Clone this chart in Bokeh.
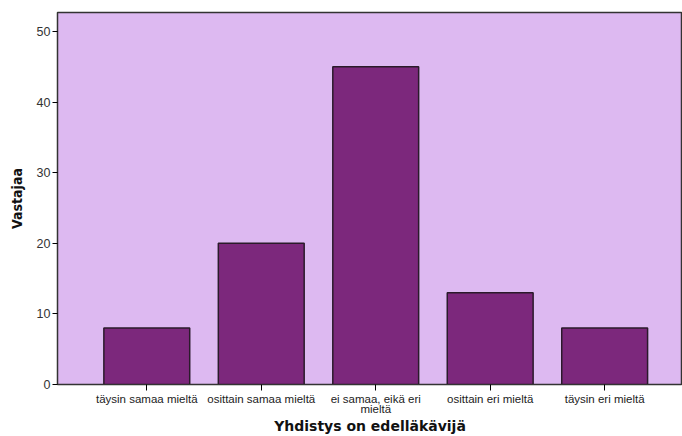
from bokeh.plotting import figure
from bokeh.models import ColumnDataSource, Range1d, FixedTicker
from bokeh.embed import file_html
from bokeh.resources import INLINE

categories = ["täysin samaa mieltä", "osittain samaa mieltä", "ei samaa, eikä eri\nmieltä",
              "osittain eri mieltä", "täysin eri mieltä"]
values = [8, 20, 45, 13, 8]
y_ticks = [0, 10, 20, 30, 40, 50]

xs = list(range(1, len(categories) + 1))
src = ColumnDataSource(dict(x=xs, top=values))

p = figure(width=682, height=436, output_backend="svg", toolbar_location=None,
           x_range=Range1d(0.22, 5.68), y_range=Range1d(0, 52.7),
           min_border_left=57, min_border_top=12, min_border_right=0, min_border_bottom=48)
p.background_fill_color = "#DDB9F1"
p.border_fill_color = "white"
p.outline_line_color = "#333333"
p.outline_line_width = 1.5
p.grid.visible = False

p.vbar(x="x", top="top", width=0.75, bottom=0, source=src,
       fill_color="#7C287C", line_color="#2a1a2a", line_width=1.5)

p.xaxis.ticker = FixedTicker(ticks=xs)
p.xaxis.major_label_overrides = {x: c for x, c in zip(xs, categories)}
p.xaxis.minor_tick_line_color = None
p.xaxis.major_tick_out = 6
p.xaxis.major_tick_in = 0
p.xaxis.major_label_standoff = 2
p.xaxis.major_label_text_font = "Liberation Sans"
p.xaxis.major_label_text_font_size = "11.5px"
p.xaxis.major_label_text_color = "#222222"
p.xaxis.major_label_text_line_height = 0.85
p.xaxis.axis_label = "Yhdistys on edelläkävijä"
p.xaxis.axis_label_text_font = "DejaVu Sans"
p.xaxis.axis_label_text_font_style = "bold"
p.xaxis.axis_label_text_font_size = "14px"
p.xaxis.axis_label_standoff = 0
p.xaxis.axis_label_text_color = "#111111"
p.xaxis.axis_line_color = "#333333"

p.yaxis.ticker = FixedTicker(ticks=y_ticks)
p.yaxis.minor_tick_line_color = None
p.yaxis.major_tick_out = 5
p.yaxis.major_tick_in = 0
p.yaxis.major_label_standoff = 2
p.yaxis.major_label_text_font = "Liberation Sans"
p.yaxis.major_label_text_font_size = "12.5px"
p.yaxis.major_label_text_color = "#333333"
p.yaxis.axis_label = "Vastajaa"
p.yaxis.axis_label_text_font = "DejaVu Sans Condensed"
p.yaxis.axis_label_text_font_style = "bold"
p.yaxis.axis_label_text_font_size = "14px"
p.yaxis.axis_label_standoff = 9
p.yaxis.axis_label_text_color = "#111111"
p.yaxis.axis_line_color = "#333333"

open("out.html", "w").write(file_html(p, INLINE))
